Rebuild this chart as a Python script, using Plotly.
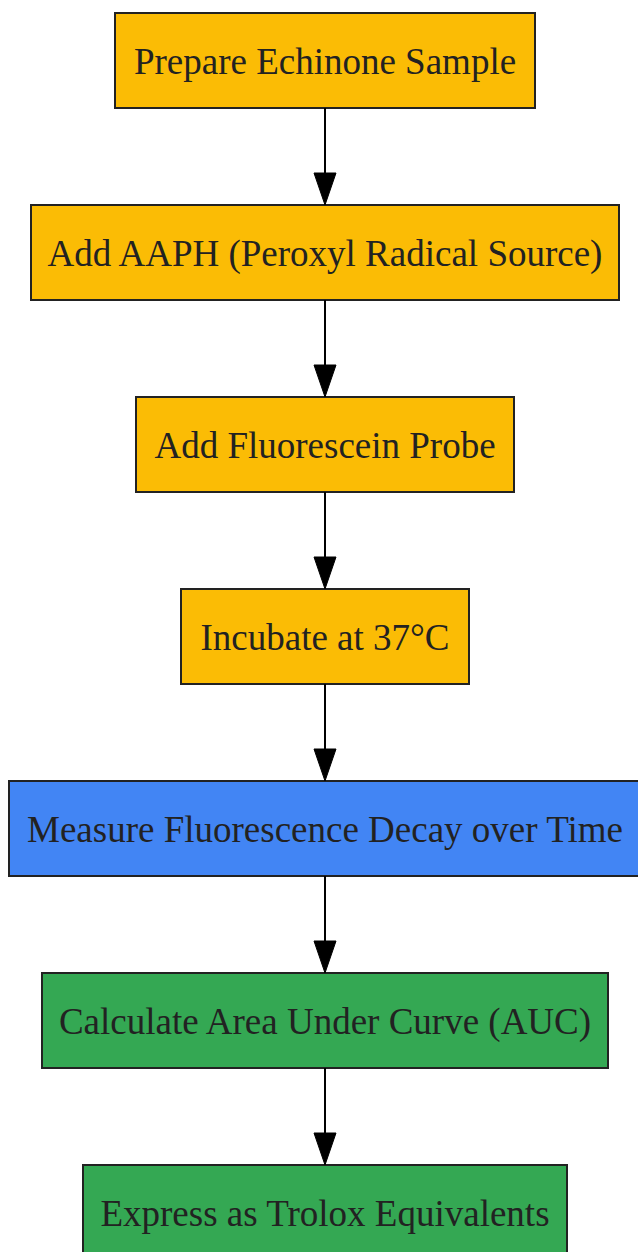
import plotly.graph_objects as go

# ---- data ----
steps = [
    "Prepare Echinone Sample",
    "Add AAPH (Peroxyl Radical Source)",
    "Add Fluorescein Probe",
    "Incubate at 37°C",
    "Measure Fluorescence Decay over Time",
    "Calculate Area Under Curve (AUC)",
    "Express as Trolox Equivalents",
]
stage = ["prep", "prep", "prep", "prep", "measure", "analysis", "analysis"]

# ---- style / layout ----
stage_colors = {"prep": "#FBBC05", "measure": "#4285F4", "analysis": "#34A853"}
box_widths = [420, 588, 378, 288, 632, 566, 484]
W, H = 638, 1252
cx = 325
top0 = 13
pitch = 192
box_h = 95
head_len = 32
head_half = 11
font_size = 37
text_dy = 4

fig = go.Figure()
shapes = []
for i, (label, st) in enumerate(zip(steps, stage)):
    yt = top0 + i * pitch
    yb = yt + box_h
    w = box_widths[i]
    shapes.append(dict(type="rect", xref="x", yref="y",
                       x0=cx - w / 2, x1=cx + w / 2, y0=yt, y1=yb,
                       fillcolor=stage_colors[st],
                       line=dict(color="#222222", width=2), layer="below"))
    if i < len(steps) - 1:
        ny = top0 + (i + 1) * pitch
        shapes.append(dict(type="line", xref="x", yref="y",
                           x0=cx, x1=cx, y0=yb, y1=ny - head_len + 2,
                           line=dict(color="black", width=2)))
        shapes.append(dict(type="path", xref="x", yref="y",
                           path=f"M {cx - head_half},{ny - head_len} L {cx + head_half},{ny - head_len} L {cx},{ny} Z",
                           fillcolor="black", line=dict(color="black", width=1)))

fig.add_trace(go.Scatter(
    x=[cx] * len(steps),
    y=[top0 + i * pitch + box_h / 2 + text_dy for i in range(len(steps))],
    text=steps, mode="text",
    textposition="middle center",
    textfont=dict(family="Liberation Serif", size=font_size, color="#222222"),
    hoverinfo="skip", showlegend=False,
))

fig.update_layout(
    width=W, height=H,
    margin=dict(l=0, r=0, t=0, b=0),
    paper_bgcolor="white", plot_bgcolor="white",
    shapes=shapes,
    xaxis=dict(range=[0, W], visible=False, fixedrange=True),
    yaxis=dict(range=[H, 0], visible=False, fixedrange=True),
    showlegend=False,
)
fig.write_html(
    "out.html",
    config={"displayModeBar": False, "staticPlot": True},
    post_script="document.body.style.margin='0';document.body.style.overflow='hidden';",
)
